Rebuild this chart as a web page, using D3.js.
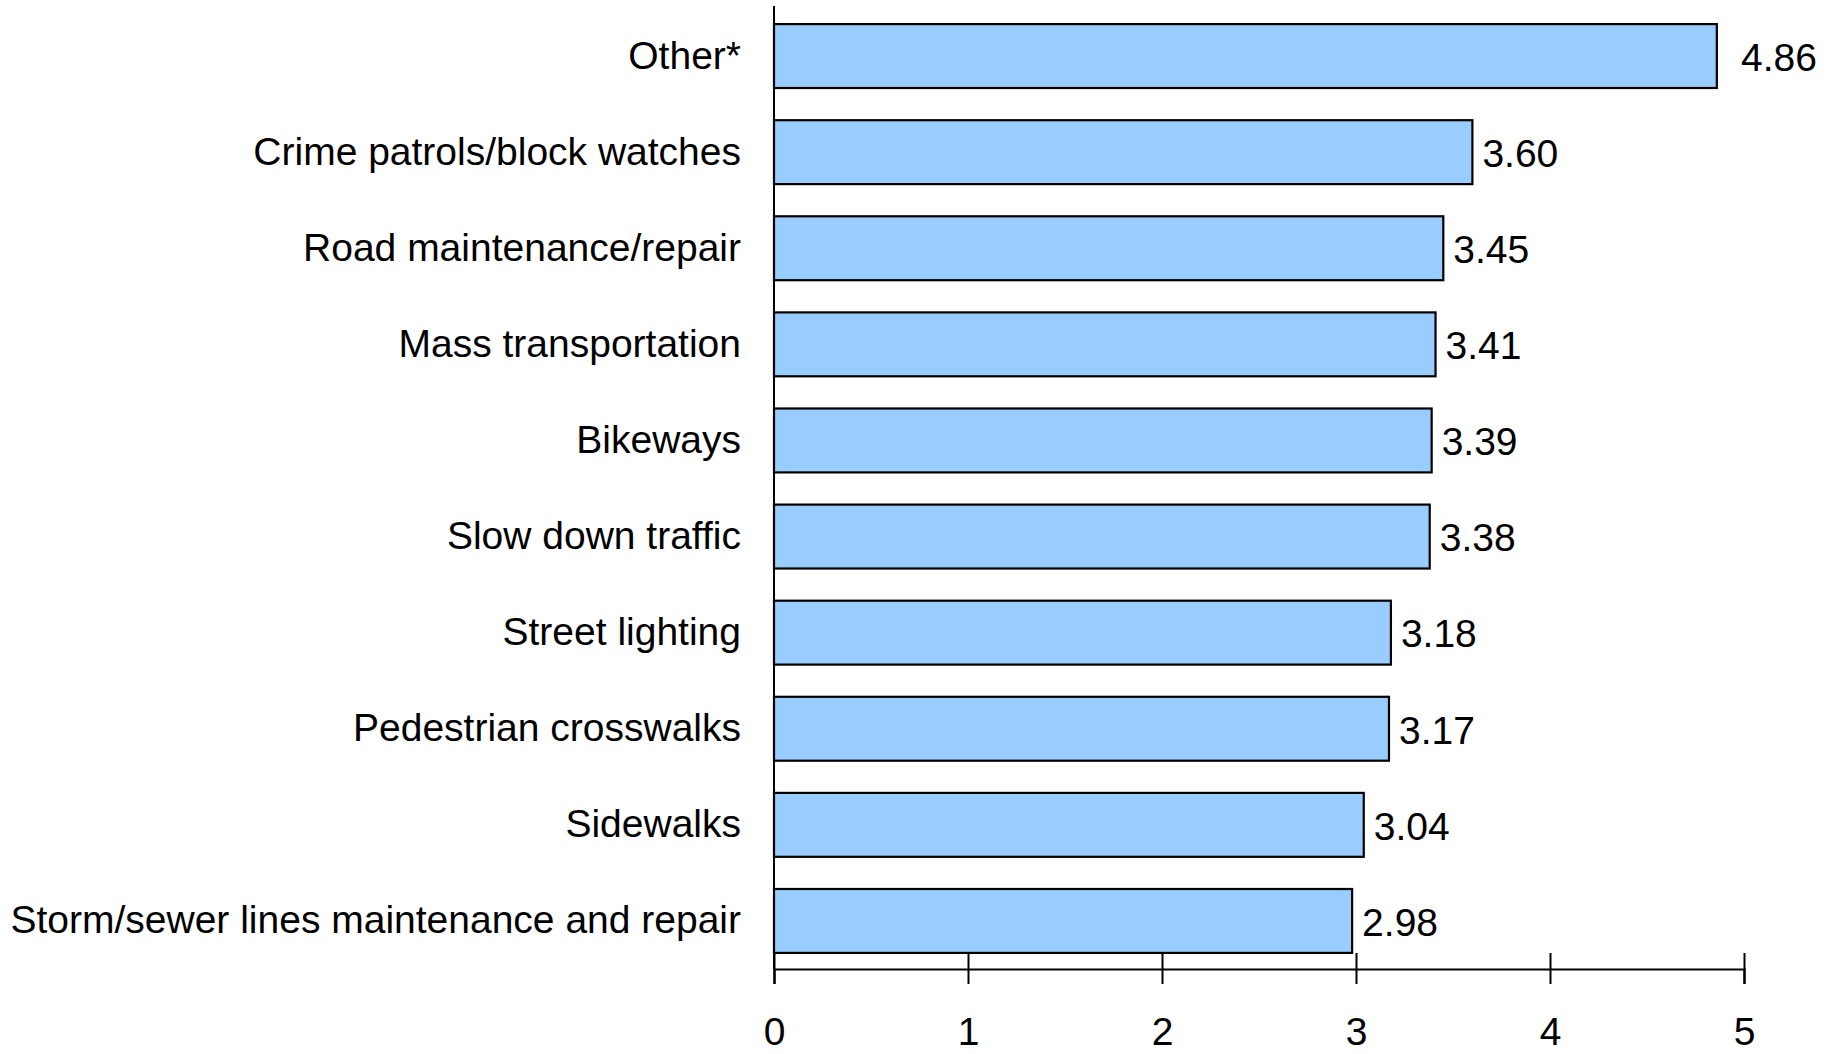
<!DOCTYPE html>
<html>
<head>
<meta charset="utf-8">
<script src="https://cdn.jsdelivr.net/npm/d3@7"></script>
<style>
  html, body { margin: 0; padding: 0; background: #fff; }
  svg { display: block; }
  text { font-family: "Liberation Sans", Arial, Helvetica, sans-serif; fill: #000; }
</style>
</head>
<body>
<script>
const categories = [
  "Other*",
  "Crime patrols/block watches",
  "Road maintenance/repair",
  "Mass transportation",
  "Bikeways",
  "Slow down traffic",
  "Street lighting",
  "Pedestrian crosswalks",
  "Sidewalks",
  "Storm/sewer lines maintenance and repair"
];
const values = [4.86, 3.60, 3.45, 3.41, 3.39, 3.38, 3.18, 3.17, 3.04, 2.98];
const xTicks = [0, 1, 2, 3, 4, 5];

const W = 1835, H = 1054;
const svg = d3.select("body").append("svg").attr("width", W).attr("height", H);

const x = d3.scaleLinear().domain([0, 5]).range([774, 1744]);
const y = d3.scaleBand().domain(categories).range([8, 969])
  .paddingInner(0.335).paddingOuter(0.1675);

const fs = 39;

// bars
svg.append("g").selectAll("rect")
  .data(categories)
  .join("rect")
  .attr("x", x(0))
  .attr("y", d => y(d))
  .attr("width", (d, i) => x(values[i]) - x(0))
  .attr("height", y.bandwidth())
  .attr("fill", "#99CCFF")
  .attr("stroke", "#000")
  .attr("stroke-width", 2.2);

// value labels (labels near the axis end are pushed past the last tick)
svg.append("g").selectAll("text")
  .data(categories)
  .join("text")
  .attr("x", (d, i) => values[i] > 4.5 ? Math.max(x(values[i]) + 10, x(5) - 3) : x(values[i]) + 10)
  .attr("y", d => y(d) + y.bandwidth() / 2)
  .attr("dy", "0.38em")
  .attr("font-size", fs)
  .text((d, i) => values[i].toFixed(2));

// y axis
const yAxis = svg.append("g")
  .attr("transform", `translate(${x(0)},0)`)
  .call(d3.axisLeft(y).tickSize(0).tickPadding(33));
yAxis.select(".domain").attr("stroke", "#000").attr("stroke-width", 2).attr("d", `M0,6V969`);
yAxis.selectAll("text")
  .attr("font-size", fs)
  .attr("font-family", "'Liberation Sans', Arial, sans-serif")
  .attr("fill", "#000")
  .attr("dy", "0.32em");

// x axis
const xAxis = svg.append("g")
  .attr("transform", `translate(0,969)`)
  .call(d3.axisBottom(x).tickValues(xTicks).tickFormat(d3.format("d")).tickSizeOuter(0).tickSize(15));
xAxis.select(".domain").attr("stroke", "#000").attr("stroke-width", 2.2);
xAxis.selectAll(".tick line").attr("stroke", "#000").attr("stroke-width", 2).attr("y1", -16).attr("y2", 15);
xAxis.selectAll(".tick text")
  .attr("font-size", fs)
  .attr("font-family", "'Liberation Sans', Arial, sans-serif")
  .attr("fill", "#000")
  .attr("y", 76)
  .attr("dy", 0);
</script>
</body>
</html>
